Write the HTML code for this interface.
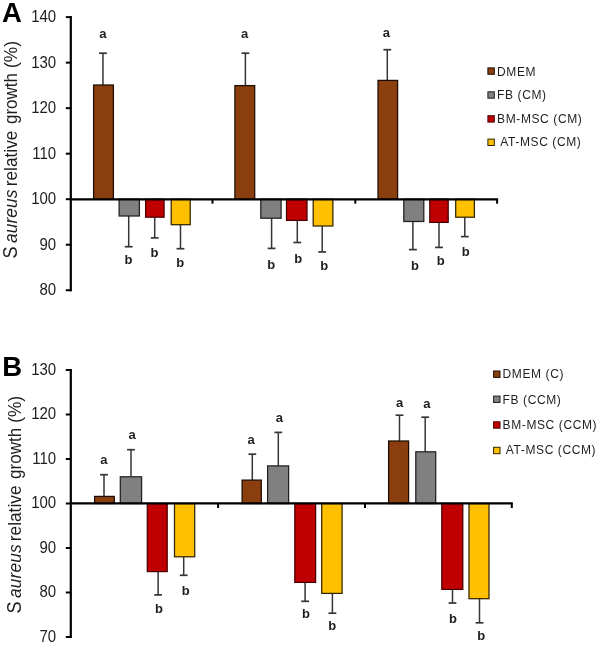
<!DOCTYPE html>
<html><head><meta charset="utf-8"><style>
html,body{margin:0;padding:0;background:#fff;}
svg{display:block;font-family:"Liberation Sans",sans-serif;filter:blur(0.35px);}
</style></head><body>
<svg width="601" height="646" viewBox="0 0 601 646">
<rect width="601" height="646" fill="#fff"/>
<text x="2.0" y="22" font-size="27.5" font-weight="bold" fill="#000">A</text>
<text transform="translate(56.2,22.32) scale(1,1.08)" font-size="15" text-anchor="end" fill="#1e1e1e">140</text>
<line x1="65.8" y1="17.12" x2="71.5" y2="17.12" stroke="#000" stroke-width="2"/>
<text transform="translate(56.2,67.84) scale(1,1.08)" font-size="15" text-anchor="end" fill="#1e1e1e">130</text>
<line x1="65.8" y1="62.64" x2="71.5" y2="62.64" stroke="#000" stroke-width="2"/>
<text transform="translate(56.2,113.36) scale(1,1.08)" font-size="15" text-anchor="end" fill="#1e1e1e">120</text>
<line x1="65.8" y1="108.16" x2="71.5" y2="108.16" stroke="#000" stroke-width="2"/>
<text transform="translate(56.2,158.88) scale(1,1.08)" font-size="15" text-anchor="end" fill="#1e1e1e">110</text>
<line x1="65.8" y1="153.68" x2="71.5" y2="153.68" stroke="#000" stroke-width="2"/>
<text transform="translate(56.2,204.40) scale(1,1.08)" font-size="15" text-anchor="end" fill="#1e1e1e">100</text>
<line x1="65.8" y1="199.20" x2="71.5" y2="199.20" stroke="#000" stroke-width="2"/>
<text transform="translate(56.2,249.92) scale(1,1.08)" font-size="15" text-anchor="end" fill="#1e1e1e">90</text>
<line x1="65.8" y1="244.72" x2="71.5" y2="244.72" stroke="#000" stroke-width="2"/>
<text transform="translate(56.2,295.44) scale(1,1.08)" font-size="15" text-anchor="end" fill="#1e1e1e">80</text>
<line x1="65.8" y1="290.24" x2="71.5" y2="290.24" stroke="#000" stroke-width="2"/>
<line x1="70.8" y1="16.12" x2="70.8" y2="291.24" stroke="#000" stroke-width="2.2"/>
<line x1="102.96" y1="85.00" x2="102.96" y2="53.20" stroke="#353535" stroke-width="1.5"/>
<line x1="99.06" y1="53.20" x2="106.86" y2="53.20" stroke="#353535" stroke-width="1.7"/>
<rect x="93.60" y="85.00" width="19.80" height="114.20" fill="#8B3F0E" stroke="#1a0c02" stroke-width="1.25"/>
<line x1="128.70" y1="216.00" x2="128.70" y2="246.70" stroke="#353535" stroke-width="1.5"/>
<line x1="124.80" y1="246.70" x2="132.60" y2="246.70" stroke="#353535" stroke-width="1.7"/>
<rect x="119.10" y="199.20" width="20.30" height="16.80" fill="#808080" stroke="#202020" stroke-width="1.25"/>
<line x1="154.70" y1="217.20" x2="154.70" y2="237.90" stroke="#353535" stroke-width="1.5"/>
<line x1="150.80" y1="237.90" x2="158.60" y2="237.90" stroke="#353535" stroke-width="1.7"/>
<rect x="145.60" y="199.20" width="18.50" height="18.00" fill="#C00000" stroke="#480000" stroke-width="1.25"/>
<line x1="180.50" y1="224.70" x2="180.50" y2="248.70" stroke="#353535" stroke-width="1.5"/>
<line x1="176.60" y1="248.70" x2="184.40" y2="248.70" stroke="#353535" stroke-width="1.7"/>
<rect x="171.20" y="199.20" width="19.00" height="25.50" fill="#FFC000" stroke="#302400" stroke-width="1.25"/>
<line x1="245.40" y1="85.60" x2="245.40" y2="53.20" stroke="#353535" stroke-width="1.5"/>
<line x1="241.50" y1="53.20" x2="249.30" y2="53.20" stroke="#353535" stroke-width="1.7"/>
<rect x="234.90" y="85.60" width="19.80" height="113.60" fill="#8B3F0E" stroke="#1a0c02" stroke-width="1.25"/>
<line x1="271.60" y1="218.20" x2="271.60" y2="248.40" stroke="#353535" stroke-width="1.5"/>
<line x1="267.70" y1="248.40" x2="275.50" y2="248.40" stroke="#353535" stroke-width="1.7"/>
<rect x="260.80" y="199.20" width="20.30" height="19.00" fill="#808080" stroke="#202020" stroke-width="1.25"/>
<line x1="297.30" y1="220.40" x2="297.30" y2="242.50" stroke="#353535" stroke-width="1.5"/>
<line x1="293.40" y1="242.50" x2="301.20" y2="242.50" stroke="#353535" stroke-width="1.7"/>
<rect x="286.50" y="199.20" width="20.50" height="21.20" fill="#C00000" stroke="#480000" stroke-width="1.25"/>
<line x1="322.20" y1="226.00" x2="322.20" y2="251.90" stroke="#353535" stroke-width="1.5"/>
<line x1="318.30" y1="251.90" x2="326.10" y2="251.90" stroke="#353535" stroke-width="1.7"/>
<rect x="313.20" y="199.20" width="19.70" height="26.80" fill="#FFC000" stroke="#302400" stroke-width="1.25"/>
<line x1="387.30" y1="80.40" x2="387.30" y2="49.70" stroke="#353535" stroke-width="1.5"/>
<line x1="383.40" y1="49.70" x2="391.20" y2="49.70" stroke="#353535" stroke-width="1.7"/>
<rect x="378.00" y="80.40" width="19.60" height="118.80" fill="#8B3F0E" stroke="#1a0c02" stroke-width="1.25"/>
<line x1="412.90" y1="221.50" x2="412.90" y2="249.60" stroke="#353535" stroke-width="1.5"/>
<line x1="409.00" y1="249.60" x2="416.80" y2="249.60" stroke="#353535" stroke-width="1.7"/>
<rect x="403.80" y="199.20" width="20.00" height="22.30" fill="#808080" stroke="#202020" stroke-width="1.25"/>
<line x1="439.00" y1="222.40" x2="439.00" y2="247.40" stroke="#353535" stroke-width="1.5"/>
<line x1="435.10" y1="247.40" x2="442.90" y2="247.40" stroke="#353535" stroke-width="1.7"/>
<rect x="429.80" y="199.20" width="18.40" height="23.20" fill="#C00000" stroke="#480000" stroke-width="1.25"/>
<line x1="464.80" y1="217.20" x2="464.80" y2="236.60" stroke="#353535" stroke-width="1.5"/>
<line x1="460.90" y1="236.60" x2="468.70" y2="236.60" stroke="#353535" stroke-width="1.7"/>
<rect x="455.70" y="199.20" width="18.70" height="18.00" fill="#FFC000" stroke="#302400" stroke-width="1.25"/>
<text x="102.75" y="37.90" font-size="13" font-weight="bold" text-anchor="middle" fill="#1e1e1e">a</text>
<text x="128.50" y="263.70" font-size="13" font-weight="bold" text-anchor="middle" fill="#1e1e1e">b</text>
<text x="154.50" y="256.90" font-size="13" font-weight="bold" text-anchor="middle" fill="#1e1e1e">b</text>
<text x="180.30" y="266.70" font-size="13" font-weight="bold" text-anchor="middle" fill="#1e1e1e">b</text>
<text x="244.50" y="37.90" font-size="13" font-weight="bold" text-anchor="middle" fill="#1e1e1e">a</text>
<text x="271.25" y="269.20" font-size="13" font-weight="bold" text-anchor="middle" fill="#1e1e1e">b</text>
<text x="298.20" y="263.20" font-size="13" font-weight="bold" text-anchor="middle" fill="#1e1e1e">b</text>
<text x="324.15" y="269.90" font-size="13" font-weight="bold" text-anchor="middle" fill="#1e1e1e">b</text>
<text x="386.40" y="36.60" font-size="13" font-weight="bold" text-anchor="middle" fill="#1e1e1e">a</text>
<text x="415.00" y="269.90" font-size="13" font-weight="bold" text-anchor="middle" fill="#1e1e1e">b</text>
<text x="440.80" y="264.70" font-size="13" font-weight="bold" text-anchor="middle" fill="#1e1e1e">b</text>
<text x="465.85" y="256.40" font-size="13" font-weight="bold" text-anchor="middle" fill="#1e1e1e">b</text>
<line x1="70" y1="199.40" x2="498.10" y2="199.40" stroke="#000" stroke-width="2.4"/>
<line x1="212.50" y1="199.20" x2="212.50" y2="203.70" stroke="#000" stroke-width="2"/>
<line x1="355.30" y1="199.20" x2="355.30" y2="203.70" stroke="#000" stroke-width="2"/>
<line x1="497.10" y1="199.20" x2="497.10" y2="203.70" stroke="#000" stroke-width="2"/>
<rect x="487.9" y="67.90" width="6.4" height="6.4" fill="#8B3F0E" stroke="#1a0c02" stroke-width="1"/>
<text x="497.1" y="75.70" font-size="12" letter-spacing="0.6" fill="#1e1e1e" xml:space="preserve">DMEM</text>
<rect x="487.9" y="91.80" width="6.4" height="6.4" fill="#808080" stroke="#202020" stroke-width="1"/>
<text x="497.1" y="99.00" font-size="12" letter-spacing="0.6" fill="#1e1e1e" xml:space="preserve">FB (CM)</text>
<rect x="487.9" y="115.70" width="6.4" height="6.4" fill="#C00000" stroke="#480000" stroke-width="1"/>
<text x="497.1" y="123.00" font-size="12" letter-spacing="0.6" fill="#1e1e1e" xml:space="preserve">BM-MSC (CM)</text>
<rect x="487.9" y="139.10" width="6.4" height="6.4" fill="#FFC000" stroke="#302400" stroke-width="1"/>
<text x="497.1" y="146.30" font-size="12" letter-spacing="0.6" fill="#1e1e1e" xml:space="preserve"> AT-MSC (CM)</text>
<g transform="translate(16.6,-0.05) rotate(-90) scale(1,1.07)" font-size="17.3" text-anchor="middle" fill="#1e1e1e">
<text x="-252.55" y="0" font-size="18.2">S</text>
<text x="-216.30" y="0" font-size="17.3" font-style="italic" letter-spacing="0.15">aureus</text>
<text x="-158.50" y="0" font-size="17.3">relative</text>
<text x="-98.55" y="0" font-size="17.0">growth</text>
<text x="-54.50" y="0" font-size="17.3">(%)</text>
</g>
<text x="2.3" y="376.2" font-size="27.5" font-weight="bold" fill="#000">B</text>
<text transform="translate(56.2,374.90) scale(1,1.08)" font-size="15" text-anchor="end" fill="#1e1e1e">130</text>
<line x1="65.8" y1="370.00" x2="71.5" y2="370.00" stroke="#000" stroke-width="2"/>
<text transform="translate(56.2,419.40) scale(1,1.08)" font-size="15" text-anchor="end" fill="#1e1e1e">120</text>
<line x1="65.8" y1="414.50" x2="71.5" y2="414.50" stroke="#000" stroke-width="2"/>
<text transform="translate(56.2,463.90) scale(1,1.08)" font-size="15" text-anchor="end" fill="#1e1e1e">110</text>
<line x1="65.8" y1="459.00" x2="71.5" y2="459.00" stroke="#000" stroke-width="2"/>
<text transform="translate(56.2,508.40) scale(1,1.08)" font-size="15" text-anchor="end" fill="#1e1e1e">100</text>
<line x1="65.8" y1="503.50" x2="71.5" y2="503.50" stroke="#000" stroke-width="2"/>
<text transform="translate(56.2,552.90) scale(1,1.08)" font-size="15" text-anchor="end" fill="#1e1e1e">90</text>
<line x1="65.8" y1="548.00" x2="71.5" y2="548.00" stroke="#000" stroke-width="2"/>
<text transform="translate(56.2,597.40) scale(1,1.08)" font-size="15" text-anchor="end" fill="#1e1e1e">80</text>
<line x1="65.8" y1="592.50" x2="71.5" y2="592.50" stroke="#000" stroke-width="2"/>
<text transform="translate(56.2,641.90) scale(1,1.08)" font-size="15" text-anchor="end" fill="#1e1e1e">70</text>
<line x1="65.8" y1="637.00" x2="71.5" y2="637.00" stroke="#000" stroke-width="2"/>
<line x1="70.8" y1="369.00" x2="70.8" y2="638.00" stroke="#000" stroke-width="2.2"/>
<line x1="104.00" y1="496.40" x2="104.00" y2="474.70" stroke="#353535" stroke-width="1.5"/>
<line x1="100.10" y1="474.70" x2="107.90" y2="474.70" stroke="#353535" stroke-width="1.7"/>
<rect x="94.60" y="496.40" width="19.70" height="7.10" fill="#8B3F0E" stroke="#1a0c02" stroke-width="1.25"/>
<line x1="131.00" y1="476.80" x2="131.00" y2="449.70" stroke="#353535" stroke-width="1.5"/>
<line x1="127.10" y1="449.70" x2="134.90" y2="449.70" stroke="#353535" stroke-width="1.7"/>
<rect x="120.30" y="476.80" width="21.30" height="26.70" fill="#808080" stroke="#202020" stroke-width="1.25"/>
<line x1="158.10" y1="571.60" x2="158.10" y2="594.90" stroke="#353535" stroke-width="1.5"/>
<line x1="154.20" y1="594.90" x2="162.00" y2="594.90" stroke="#353535" stroke-width="1.7"/>
<rect x="147.30" y="503.50" width="19.90" height="68.10" fill="#C00000" stroke="#480000" stroke-width="1.25"/>
<line x1="183.70" y1="556.80" x2="183.70" y2="575.30" stroke="#353535" stroke-width="1.5"/>
<line x1="179.80" y1="575.30" x2="187.60" y2="575.30" stroke="#353535" stroke-width="1.7"/>
<rect x="174.50" y="503.50" width="20.20" height="53.30" fill="#FFC000" stroke="#302400" stroke-width="1.25"/>
<line x1="252.30" y1="480.10" x2="252.30" y2="454.20" stroke="#353535" stroke-width="1.5"/>
<line x1="248.40" y1="454.20" x2="256.20" y2="454.20" stroke="#353535" stroke-width="1.7"/>
<rect x="242.10" y="480.10" width="19.20" height="23.40" fill="#8B3F0E" stroke="#1a0c02" stroke-width="1.25"/>
<line x1="278.30" y1="465.90" x2="278.30" y2="432.40" stroke="#353535" stroke-width="1.5"/>
<line x1="274.40" y1="432.40" x2="282.20" y2="432.40" stroke="#353535" stroke-width="1.7"/>
<rect x="267.60" y="465.90" width="21.00" height="37.60" fill="#808080" stroke="#202020" stroke-width="1.25"/>
<line x1="305.10" y1="582.40" x2="305.10" y2="601.30" stroke="#353535" stroke-width="1.5"/>
<line x1="301.20" y1="601.30" x2="309.00" y2="601.30" stroke="#353535" stroke-width="1.7"/>
<rect x="294.80" y="503.50" width="20.80" height="78.90" fill="#C00000" stroke="#480000" stroke-width="1.25"/>
<line x1="332.40" y1="593.40" x2="332.40" y2="613.20" stroke="#353535" stroke-width="1.5"/>
<line x1="328.50" y1="613.20" x2="336.30" y2="613.20" stroke="#353535" stroke-width="1.7"/>
<rect x="321.70" y="503.50" width="20.40" height="89.90" fill="#FFC000" stroke="#302400" stroke-width="1.25"/>
<line x1="399.50" y1="441.00" x2="399.50" y2="415.20" stroke="#353535" stroke-width="1.5"/>
<line x1="395.60" y1="415.20" x2="403.40" y2="415.20" stroke="#353535" stroke-width="1.7"/>
<rect x="388.60" y="441.00" width="20.00" height="62.50" fill="#8B3F0E" stroke="#1a0c02" stroke-width="1.25"/>
<line x1="425.20" y1="451.80" x2="425.20" y2="417.20" stroke="#353535" stroke-width="1.5"/>
<line x1="421.30" y1="417.20" x2="429.10" y2="417.20" stroke="#353535" stroke-width="1.7"/>
<rect x="415.80" y="451.80" width="19.90" height="51.70" fill="#808080" stroke="#202020" stroke-width="1.25"/>
<line x1="452.50" y1="589.40" x2="452.50" y2="603.00" stroke="#353535" stroke-width="1.5"/>
<line x1="448.60" y1="603.00" x2="456.40" y2="603.00" stroke="#353535" stroke-width="1.7"/>
<rect x="441.80" y="503.50" width="21.00" height="85.90" fill="#C00000" stroke="#480000" stroke-width="1.25"/>
<line x1="479.50" y1="598.70" x2="479.50" y2="622.80" stroke="#353535" stroke-width="1.5"/>
<line x1="475.60" y1="622.80" x2="483.40" y2="622.80" stroke="#353535" stroke-width="1.7"/>
<rect x="469.00" y="503.50" width="20.00" height="95.20" fill="#FFC000" stroke="#302400" stroke-width="1.25"/>
<text x="103.95" y="463.70" font-size="13" font-weight="bold" text-anchor="middle" fill="#1e1e1e">a</text>
<text x="132.05" y="438.80" font-size="13" font-weight="bold" text-anchor="middle" fill="#1e1e1e">a</text>
<text x="158.90" y="613.10" font-size="13" font-weight="bold" text-anchor="middle" fill="#1e1e1e">b</text>
<text x="185.85" y="594.60" font-size="13" font-weight="bold" text-anchor="middle" fill="#1e1e1e">b</text>
<text x="251.20" y="444.40" font-size="13" font-weight="bold" text-anchor="middle" fill="#1e1e1e">a</text>
<text x="279.30" y="422.30" font-size="13" font-weight="bold" text-anchor="middle" fill="#1e1e1e">a</text>
<text x="305.95" y="618.40" font-size="13" font-weight="bold" text-anchor="middle" fill="#1e1e1e">b</text>
<text x="332.35" y="629.50" font-size="13" font-weight="bold" text-anchor="middle" fill="#1e1e1e">b</text>
<text x="399.60" y="406.50" font-size="13" font-weight="bold" text-anchor="middle" fill="#1e1e1e">a</text>
<text x="426.80" y="407.50" font-size="13" font-weight="bold" text-anchor="middle" fill="#1e1e1e">a</text>
<text x="453.00" y="622.90" font-size="13" font-weight="bold" text-anchor="middle" fill="#1e1e1e">b</text>
<text x="481.20" y="639.90" font-size="13" font-weight="bold" text-anchor="middle" fill="#1e1e1e">b</text>
<line x1="70" y1="503.40" x2="512.80" y2="503.40" stroke="#000" stroke-width="2.2"/>
<line x1="218.10" y1="503.50" x2="218.10" y2="508.00" stroke="#000" stroke-width="2"/>
<line x1="365.00" y1="503.50" x2="365.00" y2="508.00" stroke="#000" stroke-width="2"/>
<line x1="511.80" y1="503.50" x2="511.80" y2="508.00" stroke="#000" stroke-width="2"/>
<rect x="493.6" y="371.00" width="6.4" height="6.4" fill="#8B3F0E" stroke="#1a0c02" stroke-width="1"/>
<text x="502.6" y="378.40" font-size="12" letter-spacing="0.6" fill="#1e1e1e" xml:space="preserve">DMEM (C)</text>
<rect x="493.6" y="396.10" width="6.4" height="6.4" fill="#808080" stroke="#202020" stroke-width="1"/>
<text x="502.6" y="403.50" font-size="12" letter-spacing="0.6" fill="#1e1e1e" xml:space="preserve">FB (CCM)</text>
<rect x="493.6" y="421.80" width="6.4" height="6.4" fill="#C00000" stroke="#480000" stroke-width="1"/>
<text x="502.6" y="429.30" font-size="12" letter-spacing="0.6" fill="#1e1e1e" xml:space="preserve">BM-MSC (CCM)</text>
<rect x="493.6" y="447.30" width="6.4" height="6.4" fill="#FFC000" stroke="#302400" stroke-width="1"/>
<text x="502.6" y="454.40" font-size="12" letter-spacing="0.6" fill="#1e1e1e" xml:space="preserve"> AT-MSC (CCM)</text>
<g transform="translate(21.2,354.85) rotate(-90) scale(1,1.07)" font-size="17.3" text-anchor="middle" fill="#1e1e1e">
<text x="-252.55" y="0" font-size="18.2">S</text>
<text x="-216.30" y="0" font-size="17.3" font-style="italic" letter-spacing="0.15">aureus</text>
<text x="-158.50" y="0" font-size="17.3">relative</text>
<text x="-98.55" y="0" font-size="17.0">growth</text>
<text x="-54.50" y="0" font-size="17.3">(%)</text>
</g>
</svg></body></html>
